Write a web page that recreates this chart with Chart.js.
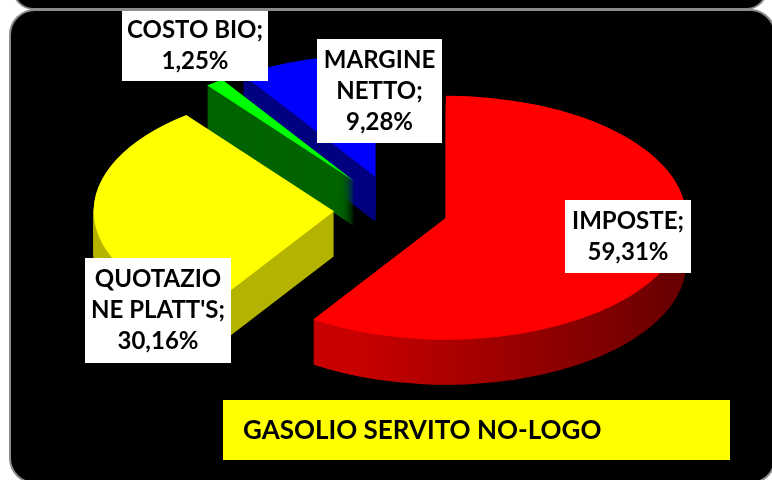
<!DOCTYPE html>
<html>
<head>
<meta charset="utf-8">
<script src="https://cdn.jsdelivr.net/npm/chart.js@4.4.1/dist/chart.umd.min.js"></script>
<style>
html, body { margin: 0; padding: 0; background: #fff; overflow: hidden; }
#wrap { position: relative; width: 772px; height: 480px; overflow: hidden; }
#top { position: absolute; left: 12px; top: -40px; width: 752px; height: 46px; background: #000; border: 2px solid #8c8c8c; border-radius: 22px; }
#panel { position: absolute; left: 9px; top: 9px; width: 763px; height: 471px; background: #000; border: 2px solid #8c8c8c; border-radius: 26px; }
canvas { position: absolute; left: 0; top: 0; }
</style>
</head>
<body>
<div id="wrap">
  <div id="top"></div>
  <div id="panel"></div>
  <canvas id="ctx" width="772" height="480"></canvas>
</div>
<script>
'use strict';
const categories = ['IMPOSTE', "QUOTAZIONE PLATT'S", 'COSTO BIO', 'MARGINE NETTO'];
const values = [59.31, 30.16, 1.25, 9.28];
// how the labels are wrapped in the picture
const labelLines = [['IMPOSTE;'], ['QUOTAZIO', "NE PLATT'S;"], ['COSTO BIO;'], ['MARGINE', 'NETTO;']];
const title = 'GASOLIO SERVITO NO-LOGO';

const topColors = ['#ff0000', '#ffff00', '#00ff00', '#0000ff'];
const sideColors = ['#8a0000', '#b4b400', '#006400', '#000080'];

const fmt = v => v.toFixed(2).replace('.', ',') + '%';

// fake 3d: stretch the pie sideways, push slices out, stack darker copies under them
const pie3d = {
  id: 'pie3d',
  beforeDatasetsDraw(chart, args, opts) {
    const ctx = chart.ctx;
    const arcs = chart.getDatasetMeta(0).data;
    const cx = arcs[0].x;
    ctx.save();
    ctx.translate(cx, 0);
    ctx.scale(opts.stretch, 1);
    ctx.translate(-cx, 0);
    const redSide = ctx.createLinearGradient(cx - 45, 0, cx + 150, 0);
    redSide.addColorStop(0, '#c80000');
    redSide.addColorStop(1, '#560000');
    opts.order.forEach(i => {
      const arc = arcs[i];
      const orig = arc.options;
      const side = i === 0 ? redSide : sideColors[i];
      const mid = (arc.startAngle + arc.endAngle) / 2;
      ctx.save();
      ctx.translate(Math.cos(mid) * opts.explode[i], Math.sin(mid) * opts.explode[i]);
      arc.options = Object.assign({}, orig, {backgroundColor: side, borderColor: side});
      for (let d = opts.depth; d > 0; d--) {
        ctx.save();
        ctx.translate(0, d);
        arc.draw(ctx);
        ctx.restore();
      }
      arc.options = orig;
      arc.draw(ctx);
      ctx.restore();
    });
    ctx.restore();
    return false;
  }
};

const labelBoxes = {
  id: 'labelBoxes',
  afterDraw(chart, args, opts) {
    const ctx = chart.ctx;
    ctx.save();
    ctx.textAlign = 'center';
    ctx.textBaseline = 'middle';
    ctx.font = opts.font;
    opts.boxes.forEach((b, i) => {
      ctx.fillStyle = '#fff';
      ctx.fillRect(b[0], b[1], b[2] - b[0], b[3] - b[1]);
      const lines = labelLines[i].concat(fmt(values[i]));
      const mid = (b[1] + b[3]) / 2;
      ctx.fillStyle = '#000';
      lines.forEach((t, k) => {
        ctx.fillText(t, (b[0] + b[2]) / 2, mid + (k - (lines.length - 1) / 2) * 31);
      });
    });
    const t = opts.titleBox;
    ctx.fillStyle = '#ffff00';
    ctx.fillRect(t[0], t[1], t[2] - t[0], t[3] - t[1]);
    ctx.fillStyle = '#000';
    ctx.textAlign = 'left';
    ctx.font = opts.titleFont;
    ctx.fillText(title, t[0] + 20, (t[1] + t[3]) / 2 + 1);
    ctx.restore();
  }
};

const ctx = document.getElementById('ctx');
const myChart = new Chart(ctx, {
  type: 'pie',
  data: {
    labels: categories,
    datasets: [
      {
        data: values,
        backgroundColor: topColors,
        borderWidth: 0,
        radius: 122
      }
    ]
  },
  options: {
    responsive: false,
    animation: false,
    devicePixelRatio: 1,
    events: [],
    layout: { padding: { left: 18, right: 0, top: 0, bottom: 60 } },
    plugins: {
      legend: { display: false },
      tooltip: { enabled: false },
      pie3d: { stretch: 1.97, depth: 45, order: [3, 2, 1, 0], explode: [27, 31, 35, 35] },
      labelBoxes: {
        font: 'bold 24px Lato',
        titleFont: 'bold 26px Lato',
        boxes: [[565, 200, 691, 273], [85, 258, 231, 363], [122, 11, 268, 81], [317, 39, 442, 143]],
        titleBox: [223, 400, 730, 460]
      }
    }
  },
  plugins: [pie3d, labelBoxes]
});
</script>
</body>
</html>
